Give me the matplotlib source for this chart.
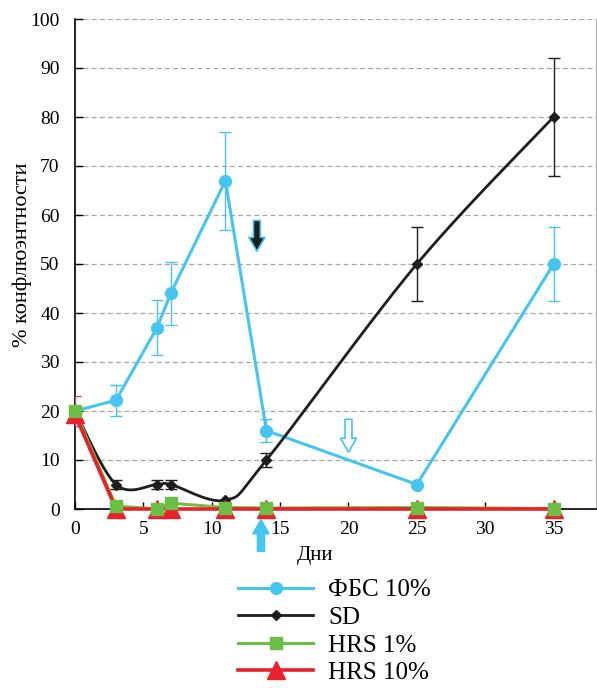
import numpy as np
import matplotlib
matplotlib.use("Agg")
import matplotlib.pyplot as plt
from matplotlib.patches import FancyArrowPatch
from matplotlib.lines import Line2D

plt.rcParams['font.family'] = ['Liberation Serif', 'DejaVu Serif']

days = [0, 3, 6, 7, 11, 14, 25, 35]
fbs = [20, 22.2, 37, 44, 67, 16, 5, 50]
fbs_err = [0, 3.2, 5.6, 6.4, 10, 2.4, 0, 7.5]
sd = [20, 5, 5, 5, 1.8, 10, 50, 80]
sd_err = [0, 0.9, 0.9, 0.9, 0, 1.5, 7.5, 12]
hrs1 = [20, 0.6, 0, 1.2, 0.3, 0.2, 0.3, 0.1]
hrs10 = [19.3, 0, 0, 0, 0, 0, 0, 0]
hrs10_err_low = [2.3, 0, 0, 0, 0, 0, 0, 0]
hrs10_err_high = [3.8, 0, 0, 0, 0, 0, 0, 0]

labels = ['ФБС 10%', 'SD', 'HRS 1%', 'HRS 10%']
c_fbs = '#45C5F0'
c_sd = '#1E1E1E'
c_g = '#6DBE45'
c_r = '#E8212A'

fig = plt.figure(figsize=(5.97, 6.88), dpi=100)
ax = fig.add_axes([75/597, 1-509/688, (596-75)/597, (509-19)/688])
ax.set_xlim(0, 38.1)
ax.set_ylim(0, 100)

# grid
for v in range(10, 101, 10):
    ax.axhline(v, color='#a8a8a8', lw=0.9, ls=(0, (4, 2.5)), zorder=0)

def smooth(x, y, n=30, k=6.0):
    x = np.asarray(x, float); y = np.asarray(y, float)
    sx, sy = 13.66, 4.9
    P = np.column_stack([x*sx, y*sy])
    out = []
    for i in range(len(P)-1):
        p0 = P[i-1] if i > 0 else P[i]
        p1 = P[i]; p2 = P[i+1]
        p3 = P[i+2] if i+2 < len(P) else P[i+1]
        c1 = p1 + (p2-p0)/k
        c2 = p2 - (p3-p1)/k
        t = np.linspace(0, 1, n)[:, None]
        seg = (1-t)**3*p1 + 3*(1-t)**2*t*c1 + 3*(1-t)*t**2*c2 + t**3*p2
        out.append(seg if i == 0 else seg[1:])
    out = np.vstack(out)
    return out[:, 0]/sx, out[:, 1]/sy

# FBS
ax.errorbar(days, fbs, yerr=[e if e else np.nan for e in fbs_err], fmt='none',
            ecolor=c_fbs, elinewidth=1.0, capsize=4, capthick=1.0, zorder=3)
ax.plot(days, fbs, color=c_fbs, lw=2.2, zorder=4)
ax.plot(days, fbs, 'o', color=c_fbs, ms=8.5, zorder=5)

# SD
ax.errorbar(days, sd, yerr=[e if e else np.nan for e in sd_err], fmt='none',
            ecolor=c_sd, elinewidth=1.0, capsize=4, capthick=1.0, zorder=3)
xs, ys = smooth(days, sd)
ax.plot(xs, ys, color=c_sd, lw=2.0, zorder=4)
ax.plot(days, sd, 'D', color=c_sd, ms=5.5, zorder=5)

# HRS
ax.errorbar(days[:1], hrs10[:1], yerr=[hrs10_err_low[:1], hrs10_err_high[:1]], fmt='none',
            ecolor='#C0407F', elinewidth=1.0, capsize=4, capthick=1.0, zorder=3)
ax.plot(days, hrs1, color=c_g, lw=2.2, zorder=4, clip_on=False)
ax.plot(days, hrs10, color=c_r, lw=2.6, zorder=4.5, clip_on=False)
ax.plot(days, hrs10, '^', color=c_r, ms=13, zorder=5, clip_on=False)
ax.plot(days, hrs1, 's', color=c_g, ms=8.5, zorder=5.5, clip_on=False)

# arrows
def arrow(x, y0, y1, fc, ec, clip=True):
    a = FancyArrowPatch((x, y0), (x, y1),
                        arrowstyle='simple,head_width=1.15,head_length=1.0,tail_width=0.5',
                        mutation_scale=10, fc=fc, ec=ec, lw=1.2, shrinkA=0, shrinkB=0,
                        zorder=6, clip_on=clip)
    ax.add_patch(a)
arrow(13.3, 58.9, 52.6, '#1E1E1E', c_fbs)
arrow(20.0, 18.3, 11.6, 'white', c_fbs)
arrow(13.6, -8.6, -2.2, c_fbs, c_fbs, clip=False)

# spines
ax.spines['top'].set_visible(False)
ax.spines['right'].set_color('#b0b0b0')
ax.spines['right'].set_linewidth(0.8)
ax.spines['left'].set_linewidth(1.2)
ax.spines['bottom'].set_linewidth(1.2)

ax.set_xticks(range(0, 36, 5))
ax.set_yticks(range(0, 101, 10))
ax.tick_params(direction='in', length=5, width=1, labelsize=14)
ax.tick_params(axis='y', length=6, pad=11)
ax.tick_params(axis='x', pad=9)

ax.set_xlabel('Дни', fontsize=15)
ax.xaxis.set_label_coords((315-75)/521, -0.075)
ax.set_ylabel('% конфлюэнтности', fontsize=16)
ax.yaxis.set_label_coords(-0.082, 0.518)

handles = [
    Line2D([], [], color=c_fbs, lw=2.2, marker='o', ms=8.5),
    Line2D([], [], color=c_sd, lw=2.0, marker='D', ms=5.5),
    Line2D([], [], color=c_g, lw=2.2, marker='s', ms=8.5),
    Line2D([], [], color=c_r, lw=2.6, marker='^', ms=13),
]
fig.legend(handles, labels, loc='upper left', bbox_to_anchor=(238/597, 1-579/688),
           frameon=False, fontsize=18, handlelength=3.0, handletextpad=0.6,
           labelspacing=0.2, borderpad=0, borderaxespad=0)

fig.savefig('out.png', dpi=100)
